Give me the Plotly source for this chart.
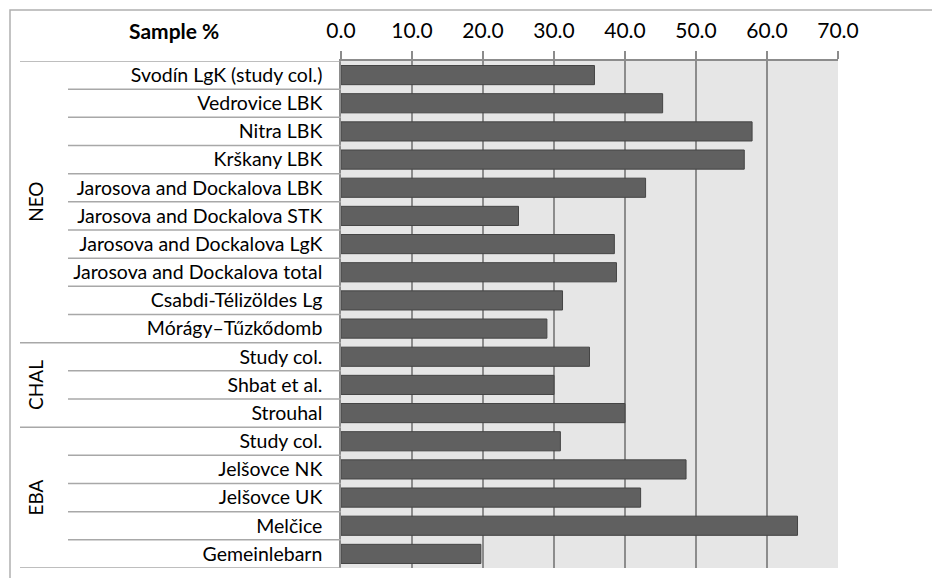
import plotly.graph_objects as go

categories = [
    "Svodín LgK (study col.)", "Vedrovice LBK", "Nitra LBK", "Krškany LBK",
    "Jarosova and Dockalova LBK", "Jarosova and Dockalova STK",
    "Jarosova and Dockalova LgK", "Jarosova and Dockalova total",
    "Csabdi-Télizöldes Lg", "Mórágy–Tűzkődomb",
    "Study col.", "Shbat et al.", "Strouhal",
    "Study col.", "Jelšovce NK", "Jelšovce UK", "Melčice", "Gemeinlebarn",
]
values = [35.7, 45.3, 57.9, 56.8, 42.9, 25.0, 38.5, 38.8, 31.2, 29.0,
          35.0, 30.0, 40.0,
          30.9, 48.6, 42.2, 64.3, 19.7]
groups = ["NEO", "CHAL", "EBA"]
group_sizes = [10, 3, 5]
tick_vals = [0, 10, 20, 30, 40, 50, 60, 70]
tick_text = ["0.0", "10.0", "20.0", "30.0", "40.0", "50.0", "60.0", "70.0"]

FONT = "Lato"
OFF = 8  # page body margin
FIG_W, FIG_H = 940 - OFF, 578 - OFF
L, T, W, H = 341 - OFF, 61 - OFF, 497, 507

def px_x(px):  # px in reference-page coords
    return (px - OFF - L) / W

def px_y(py):
    return (T + H - (py - OFF)) / H

fig = go.Figure(go.Bar(
    x=values, y=list(range(len(categories))), orientation="h",
    marker=dict(color="#606060", line=dict(color="#454545", width=1)),
    width=0.68,
))

shapes = []
line_col = "#a8a8a8"
boundaries = []
start = 0
for g, n in zip(groups, group_sizes):
    boundaries.append(start)
    start += n
boundaries.append(start)
for i in range(len(categories) + 1):
    x0 = px_x(20) if i in boundaries else px_x(68)
    shapes.append(dict(type="line", xref="paper", yref="y", x0=x0, x1=0,
                       y0=i - 0.5, y1=i - 0.5, line=dict(color=line_col, width=1.5), layer="above"))
shapes.append(dict(type="rect", xref="paper", yref="paper", x0=px_x(10), x1=px_x(960),
                   y0=px_y(600), y1=px_y(10), line=dict(color="#b0b0b0", width=1.5)))

annotations = []
start = 0
for g, n in zip(groups, group_sizes):
    annotations.append(dict(text=g, xref="paper", yref="y", x=px_x(36), y=start + (n - 1) / 2,
                            xanchor="center", yanchor="middle",
                            showarrow=False, textangle=-90, font=dict(family=FONT, size=19, color="#000")))
    start += n
annotations.append(dict(text="<b>Sample %</b>", xref="paper", yref="paper", x=px_x(174), y=px_y(31),
                        xanchor="center", yanchor="middle",
                        showarrow=False, font=dict(family=FONT, size=21, color="#000")))

fig.update_layout(
    width=FIG_W, height=FIG_H,
    margin=dict(l=L, t=T, r=FIG_W - L - W, b=FIG_H - T - H, pad=0, autoexpand=False),
    paper_bgcolor="white", plot_bgcolor="#e6e6e6",
    showlegend=False,
    shapes=shapes, annotations=annotations,
    xaxis=dict(side="top", range=[0, 70], tickvals=tick_vals, ticktext=tick_text,
               showgrid=True, gridcolor="#8c8c8c", gridwidth=1.5,
               ticks="outside", ticklen=8, tickcolor="#8c8c8c", tickwidth=1.5,
               showline=True, linecolor="#8c8c8c", linewidth=1.5,
               ticklabelstandoff=5, automargin=False,
               tickfont=dict(family=FONT, size=21, color="#000"), zeroline=False,
               fixedrange=True),
    yaxis=dict(tickvals=list(range(len(categories))), ticktext=categories,
               range=[len(categories) - 0.5, -0.5], showgrid=False, zeroline=False,
               showline=True, linecolor="#8c8c8c", linewidth=1.5,
               ticks="", ticklabelstandoff=13, automargin=False,
               tickfont=dict(family=FONT, size=19.5, color="#000"), fixedrange=True),
)

fig.write_html("out.html")
